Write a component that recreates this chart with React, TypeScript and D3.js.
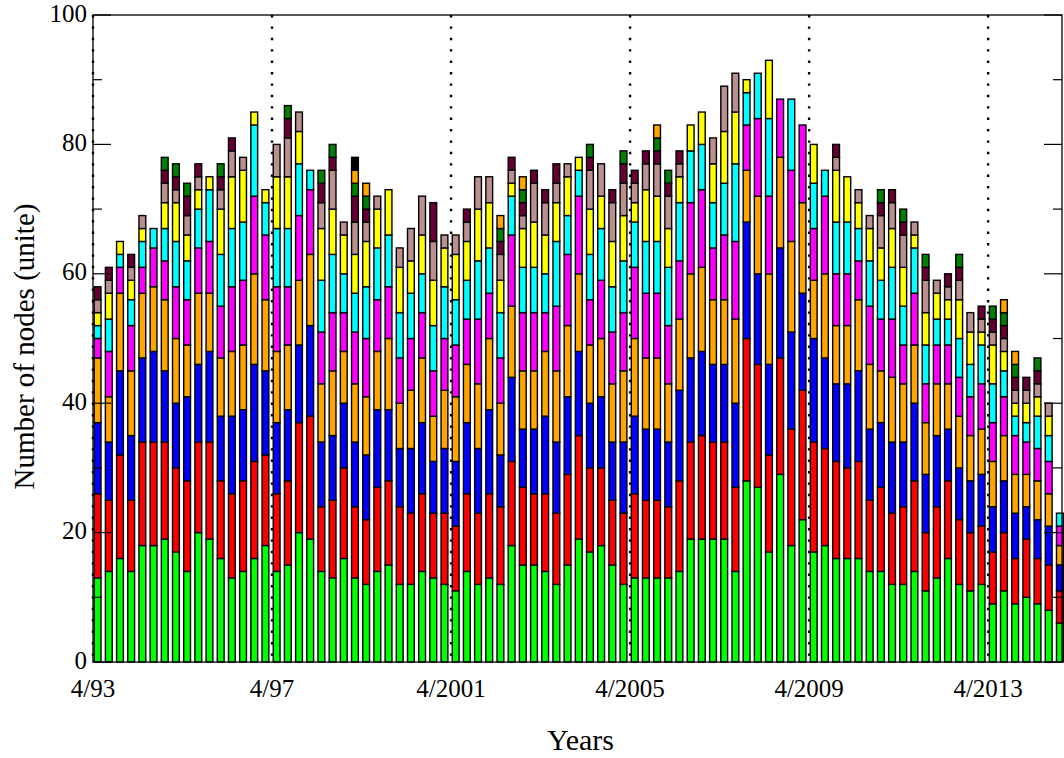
import * as d3 from "d3";

// quarterly node counts, one array per stacked category (bar 0 = 4/93)
const green = [
  13, 14, 16, 14, 18, 18, 19, 17, 14, 20, 19, 16, 13, 14, 16, 18, 14, 15, 20, 19,
  14, 13, 16, 13, 12, 14, 15, 12, 12, 14, 13, 12, 11, 14, 12, 13, 12, 18, 15, 15,
  14, 12, 15, 19, 17, 18, 15, 12, 13, 13, 13, 13, 14, 19, 19, 19, 19, 14, 28, 27,
  17, 29, 18, 22, 17, 18, 16, 16, 16, 14, 14, 12, 12, 14, 11, 13, 16, 12, 11, 12,
  9, 11, 9, 10, 9, 8, 6,
];
const red = [
  13, 11, 16, 11, 16, 16, 15, 13, 14, 14, 15, 12, 13, 14, 15, 14, 12, 13, 17, 19,
  10, 12, 14, 11, 10, 13, 13, 12, 11, 12, 10, 11, 10, 12, 11, 13, 12, 13, 12, 11,
  12, 11, 14, 16, 13, 12, 10, 11, 13, 12, 12, 11, 14, 15, 16, 15, 15, 13, 22, 19,
  15, 18, 18, 20, 17, 15, 15, 14, 15, 11, 13, 11, 12, 14, 9, 11, 12, 10, 9, 9,
  8, 9, 7, 9, 7, 7, 5,
];
const blue = [
  11, 9, 13, 10, 13, 14, 11, 10, 13, 12, 14, 10, 12, 11, 15, 13, 11, 11, 12, 14,
  10, 10, 10, 10, 10, 12, 11, 9, 10, 11, 8, 10, 10, 11, 10, 13, 8, 13, 9, 10,
  12, 11, 12, 13, 10, 11, 9, 11, 12, 11, 11, 10, 14, 13, 13, 12, 12, 13, 18, 14,
  14, 17, 15, 15, 16, 14, 12, 13, 14, 11, 10, 11, 10, 12, 9, 11, 8, 8, 8, 8,
  7, 8, 7, 5, 6, 6, 4,
];
const orange = [
  10, 7, 12, 10, 10, 10, 11, 10, 8, 11, 9, 9, 10, 10, 14, 11, 11, 10, 10, 11,
  9, 10, 8, 9, 9, 9, 11, 7, 9, 10, 7, 9, 10, 9, 10, 11, 8, 11, 9, 9,
  10, 11, 11, 12, 9, 9, 9, 11, 12, 11, 11, 9, 11, 13, 13, 10, 10, 13, 8, 12,
  14, 14, 14, 14, 9, 13, 9, 9, 11, 10, 8, 10, 9, 9, 8, 8, 7, 8, 7, 7,
  7, 7, 6, 5, 6, 5, 3,
];
const magenta = [
  3, 7, 4, 7, 4, 6, 6, 8, 7, 7, 8, 8, 10, 10, 12, 10, 10, 9, 10, 10,
  8, 9, 6, 8, 9, 8, 8, 7, 8, 7, 7, 8, 8, 7, 10, 7, 7, 11, 9, 9,
  6, 10, 11, 12, 7, 9, 8, 9, 11, 10, 10, 9, 9, 11, 12, 8, 10, 12, 7, 12,
  12, 9, 11, 12, 8, 12, 8, 8, 6, 9, 8, 9, 6, 8, 6, 6, 6, 6, 6, 7,
  6, 6, 6, 5, 5, 5, 3,
];
const cyan = [
  2, 5, 2, 4, 4, 3, 5, 7, 6, 6, 8, 8, 9, 9, 11, 5, 9, 9, 8, 3,
  8, 9, 6, 6, 8, 8, 8, 7, 7, 6, 7, 8, 7, 6, 9, 7, 7, 6, 7, 7,
  6, 10, 6, 4, 7, 8, 7, 8, 7, 8, 8, 9, 9, 8, 7, 7, 8, 12, 5, 7,
  12, 0, 11, 0, 7, 4, 8, 8, 5, 7, 6, 8, 6, 7, 6, 4, 4, 6, 5, 6,
  6, 4, 3, 3, 5, 4, 2,
];
const yellow = [
  2, 4, 2, 3, 2, 0, 4, 6, 4, 3, 2, 7, 8, 8, 2, 2, 8, 8, 5, 0,
  8, 7, 6, 6, 7, 6, 7, 7, 5, 6, 7, 6, 7, 6, 8, 7, 5, 2, 6, 7,
  6, 6, 6, 2, 7, 5, 7, 7, 3, 8, 7, 6, 4, 4, 5, 6, 8, 8, 2, 0,
  9, 0, 0, 0, 6, 0, 8, 7, 4, 5, 5, 6, 6, 2, 5, 4, 3, 6, 5, 2,
  6, 3, 2, 3, 3, 3, 0,
];
const brown = [
  2, 2, 0, 2, 2, 0, 3, 2, 3, 2, 0, 3, 4, 2, 0, 0, 5, 6, 3, 0,
  4, 6, 2, 5, 3, 2, 0, 3, 5, 6, 6, 2, 3, 3, 5, 4, 4, 2, 2, 6,
  5, 3, 2, 0, 6, 5, 6, 5, 3, 4, 5, 5, 2, 0, 0, 4, 7, 6, 0, 0,
  0, 0, 0, 0, 0, 0, 2, 0, 2, 2, 5, 4, 5, 2, 5, 2, 2, 3, 3, 2,
  2, 2, 2, 2, 2, 2, 0,
];
const maroon = [
  2, 2, 0, 2, 0, 0, 2, 2, 3, 2, 0, 2, 2, 0, 0, 0, 0, 3, 0, 0,
  3, 2, 0, 4, 2, 0, 0, 0, 0, 0, 6, 0, 0, 2, 0, 0, 2, 2, 2, 2,
  2, 3, 0, 0, 2, 0, 2, 3, 2, 2, 2, 2, 2, 0, 0, 0, 0, 0, 0, 0,
  0, 0, 0, 0, 0, 0, 2, 0, 0, 0, 2, 2, 2, 0, 2, 0, 2, 2, 0, 2,
  2, 2, 2, 2, 2, 0, 0,
];
const darkGreen = [
  0, 0, 0, 0, 0, 0, 2, 2, 2, 0, 0, 2, 0, 0, 0, 0, 0, 2, 0, 0,
  2, 2, 0, 2, 2, 0, 0, 0, 0, 0, 0, 0, 0, 0, 0, 0, 2, 0, 2, 0,
  0, 0, 0, 0, 2, 0, 0, 2, 0, 0, 2, 2, 0, 0, 0, 0, 0, 0, 0, 0,
  0, 0, 0, 0, 0, 0, 0, 0, 0, 0, 2, 0, 2, 0, 2, 0, 0, 2, 0, 0,
  2, 2, 2, 0, 2, 0, 0,
];
const orange2 = [
  0, 0, 0, 0, 0, 0, 0, 0, 0, 0, 0, 0, 0, 0, 0, 0, 0, 0, 0, 0,
  0, 0, 0, 2, 2, 0, 0, 0, 0, 0, 0, 0, 0, 0, 0, 0, 2, 0, 2, 0,
  0, 0, 0, 0, 0, 0, 0, 0, 0, 0, 2, 0, 0, 0, 0, 0, 0, 0, 0, 0,
  0, 0, 0, 0, 0, 0, 0, 0, 0, 0, 0, 0, 0, 0, 0, 0, 0, 0, 0, 0,
  0, 2, 2, 0, 0, 0, 0,
];
const black = [
  0, 0, 0, 0, 0, 0, 0, 0, 0, 0, 0, 0, 0, 0, 0, 0, 0, 0, 0, 0,
  0, 0, 0, 2, 0, 0, 0, 0, 0, 0, 0, 0, 0, 0, 0, 0, 0, 0, 0, 0,
  0, 0, 0, 0, 0, 0, 0, 0, 0, 0, 0, 0, 0, 0, 0, 0, 0, 0, 0, 0,
  0, 0, 0, 0, 0, 0, 0, 0, 0, 0, 0, 0, 0, 0, 0, 0, 0, 0, 0, 0,
  0, 0, 0, 0, 0, 0, 0,
];

const seriesKeys = ["s1", "s2", "s3", "s4", "s5", "s6", "s7", "s8", "s9", "s10", "s11", "s12"];
const seriesValues = [green, red, blue, orange, magenta, cyan, yellow, brown, maroon, darkGreen, orange2, black];
const seriesColors = [
  "#00ff00", "#ff0000", "#0000ff", "#ffa500", "#ff00ff", "#00ffff",
  "#ffff00", "#bc8f8f", "#660033", "#007f00", "#ffa500", "#000000",
];

const tickQuarters = [0, 16, 32, 48, 64, 80];
const tickLabels = ["4/93", "4/97", "4/2001", "4/2005", "4/2009", "4/2013"];
const yTicks = [0, 10, 20, 30, 40, 50, 60, 70, 80, 90, 100];

const W = 1064;
const H = 758;
const left = 93;
const right = 1062;
const top = 15;
const bottom = 662;
const font = "'Liberation Serif', 'Times New Roman', serif";

export default function App() {
  const x = d3.scaleLinear().domain([0, 86.6]).range([left, right]);
  const y = d3.scaleLinear().domain([0, 100]).range([bottom, top]);

  const rows = green.map((_, i) => {
    const r: Record<string, number> = { i };
    seriesKeys.forEach((k, s) => (r[k] = seriesValues[s][i]));
    return r;
  });
  const stacked = d3.stack<Record<string, number>>().keys(seriesKeys)(rows);

  const barW = 6.8;

  return (
    <svg width={W} height={H} style={{ position: "absolute", left: 0, top: 0, background: "#fff" }}>
      {/* stacked bars */}
      {stacked.map((layer, s) => (
        <g key={layer.key} fill={seriesColors[s]} stroke="#000" strokeWidth={1.4}>
          {layer.map((d, i) =>
            d[1] - d[0] > 0 ? (
              <rect
                key={i}
                x={x(i) + 1.2}
                y={y(d[1])}
                width={barW}
                height={y(d[0]) - y(d[1])}
              />
            ) : null
          )}
        </g>
      ))}

      {/* dotted year markers */}
      {tickQuarters.map((q) => (
        <line
          key={q}
          x1={x(q)}
          x2={x(q)}
          y1={top}
          y2={bottom}
          stroke="#000"
          strokeWidth={2.4}
          strokeDasharray="2.4 9"
        />
      ))}

      {/* frame */}
      <rect x={left} y={top} width={right - left} height={bottom - top} fill="none" stroke="#000" strokeWidth={1.3} />

      {/* y ticks both sides */}
      {yTicks.map((v) => {
        const len = v % 20 === 0 ? 18 : 9;
        return (
          <g key={v} stroke="#000" strokeWidth={1.2}>
            <line x1={left} x2={left + len} y1={y(v)} y2={y(v)} />
            <line x1={right} x2={right - len} y1={y(v)} y2={y(v)} />
          </g>
        );
      })}
      {yTicks
        .filter((v) => v % 20 === 0)
        .map((v) => (
          <text
            key={v}
            x={left - 6}
            y={y(v) - 2}
            textAnchor="end"
            dominantBaseline="central"
            fontFamily={font}
            fontSize={25}
          >
            {v}
          </text>
        ))}

      {/* x tick labels */}
      {tickQuarters.map((q, k) => (
        <text key={q} x={x(q)} y={697} textAnchor="middle" fontFamily={font} fontSize={25}>
          {tickLabels[k]}
        </text>
      ))}

      <text x={(left + right) / 2 + 3} y={750} textAnchor="middle" fontFamily={font} fontSize={30}>
        Years
      </text>
      <text
        transform={`translate(34, ${(top + bottom) / 2 + 8}) rotate(-90)`}
        textAnchor="middle"
        fontFamily={font}
        fontSize={29}
      >
        Number of nodes (unite)
      </text>
    </svg>
  );
}
